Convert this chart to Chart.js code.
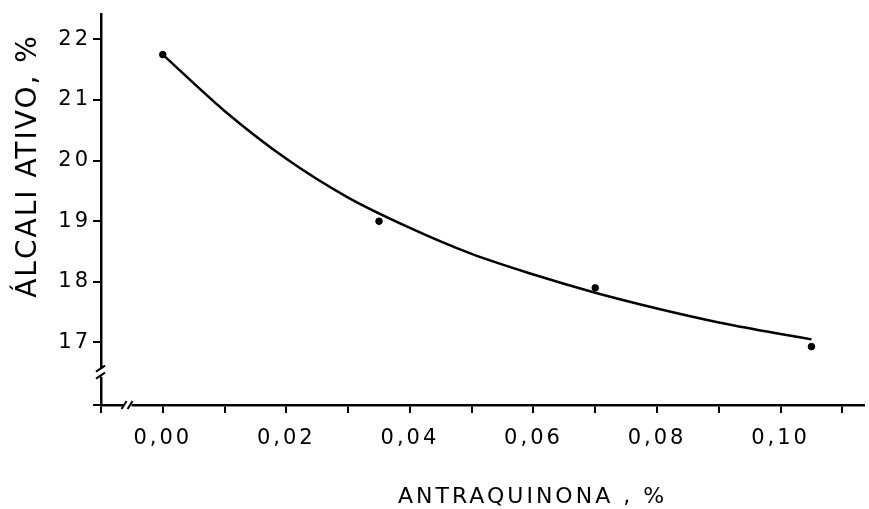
<!DOCTYPE html>
<html>
<head>
<meta charset="utf-8">
<script src="https://cdn.jsdelivr.net/npm/chart.js@4"></script>
<style>
  body { margin: 0; background: #fff; }
  canvas { display: block; }
</style>
</head>
<body>
<canvas id="myChart" width="869" height="509"></canvas>
<script>
// measured points (antraquinona %, alcali ativo %)
const pointX = [0.0, 0.035, 0.07, 0.105];
const pointY = [21.75, 19.0, 17.9, 16.93];

// fitted curve
const curveX = [0.0, 0.01, 0.02, 0.03, 0.04, 0.05, 0.06, 0.07, 0.08, 0.09, 0.1, 0.105];
const curveY = [21.75, 20.82, 20.03, 19.39, 18.89, 18.46, 18.12, 17.82, 17.56, 17.33, 17.14, 17.05];

const xTicks = [-0.01, 0.0, 0.01, 0.02, 0.03, 0.04, 0.05, 0.06, 0.07, 0.08, 0.09, 0.1, 0.11];
const yTicks = [17, 18, 19, 20, 21, 22];

const xTitle = "ANTRAQUINONA , %";
const yTitle = "ÁLCALI ATIVO, %";

const ink = "#000";

function xLabel(v) {
  const n = Math.round(v * 100);
  if (n < 0 || n % 2 != 0) return "";
  return (n / 100).toFixed(2).replace(".", ",");
}

// letter spacing for the hand lettered tick labels
const spacing = {
  id: "spacing",
  beforeDraw(chart) {
    chart.ctx.letterSpacing = "3px";
  },
};

// axis breaks and the two axis titles
const extras = {
  id: "extras",
  afterDraw(chart) {
    const ctx = chart.ctx;
    const xs = chart.scales.x;
    const ys = chart.scales.y;
    const ax = chart.chartArea.left;
    const ay = chart.chartArea.bottom;
    ctx.save();
    ctx.letterSpacing = "0px";

    // y break
    let by = ys.getPixelForValue(16.5);
    ctx.fillStyle = "#fff";
    ctx.fillRect(ax - 3, by - 4, 6, 8);
    ctx.strokeStyle = ink;
    ctx.lineWidth = 2;
    ctx.beginPath();
    ctx.moveTo(ax - 5, by - 1); ctx.lineTo(ax + 4, by - 7);
    ctx.moveTo(ax - 5, by + 6); ctx.lineTo(ax + 4, by);
    ctx.stroke();

    // x break
    let bx = xs.getPixelForValue(-0.0057);
    ctx.fillStyle = "#fff";
    ctx.fillRect(bx - 4, ay - 3, 8, 6);
    ctx.beginPath();
    ctx.moveTo(bx - 6, ay + 4); ctx.lineTo(bx - 1, ay - 4);
    ctx.moveTo(bx + 0, ay + 4); ctx.lineTo(bx + 5, ay - 4);
    ctx.stroke();

    // titles
    ctx.fillStyle = ink;
    ctx.textBaseline = "middle";
    ctx.textAlign = "center";
    ctx.font = "28px 'DejaVu Sans'";
    ctx.letterSpacing = "2px";
    ctx.save();
    ctx.translate(29, 166);
    ctx.rotate(-Math.PI / 2);
    ctx.fillText(yTitle, 0, 0);
    ctx.restore();

    ctx.font = "22px 'DejaVu Sans'";
    ctx.letterSpacing = "3px";
    ctx.textAlign = "left";
    ctx.fillText(xTitle, 398, 497);
    ctx.restore();
  },
};

const ctx = document.getElementById("myChart");
const chart = new Chart(ctx, {
  data: {
    datasets: [
      {
        type: "line",
        label: "curva",
        data: curveX.map((x, i) => ({ x: x, y: curveY[i] })),
        borderColor: ink,
        borderWidth: 2.5,
        pointRadius: 0,
        cubicInterpolationMode: "monotone",
        fill: false,
      },
      {
        type: "scatter",
        label: "pontos",
        data: pointX.map((x, i) => ({ x: x, y: pointY[i] })),
        backgroundColor: ink,
        borderColor: ink,
        pointRadius: 3.3,
      },
    ],
  },
  options: {
    responsive: false,
    animation: false,
    layout: { padding: { top: 12, right: 2, left: 0, bottom: 0 } },
    plugins: {
      legend: { display: false },
      tooltip: { enabled: false },
    },
    scales: {
      x: {
        type: "linear",
        min: -0.01,
        max: 0.1135,
        afterBuildTicks: (s) => { s.ticks = xTicks.map((v) => ({ value: v })); },
        afterFit: (s) => { s.height = 104; },
        ticks: {
          autoSkip: false,
          maxRotation: 0,
          padding: 13,
          color: ink,
          font: { family: "DejaVu Sans", size: 21 },
          callback: (v) => xLabel(v),
        },
        grid: { drawOnChartArea: false, tickLength: 8, lineWidth: 2, color: ink },
        border: { color: ink, width: 2.5 },
      },
      y: {
        type: "linear",
        min: 15.967,
        max: 22.41,
        afterBuildTicks: (s) => {
          s.ticks = [{ value: 15.967 }].concat(yTicks.map((v) => ({ value: v })));
        },
        afterFit: (s) => { s.width = 101; },
        ticks: {
          padding: 2,
          color: ink,
          font: { family: "DejaVu Sans", size: 21 },
          callback: (v) => (yTicks.includes(v) ? String(v) : ""),
        },
        grid: { drawOnChartArea: false, tickLength: 8, lineWidth: 2, color: ink },
        border: { color: ink, width: 2.5 },
      },
    },
  },
  plugins: [spacing, extras],
});
</script>
</body>
</html>
